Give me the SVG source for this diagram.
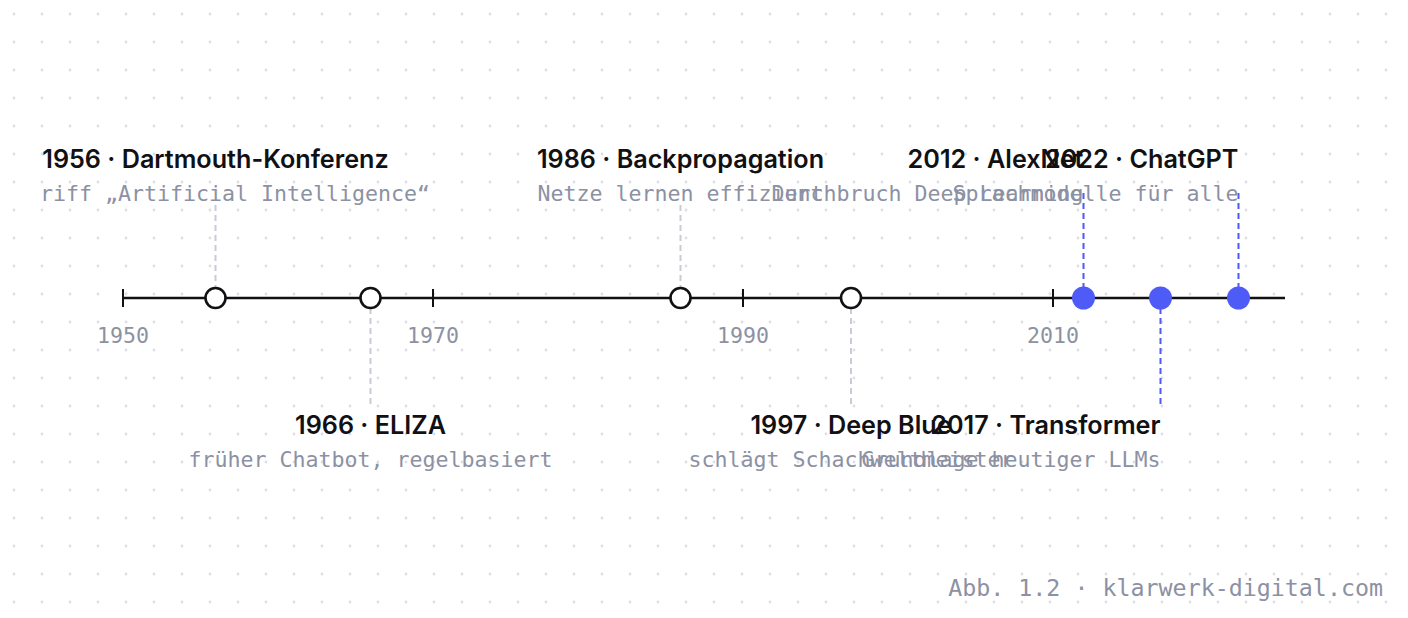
<svg xmlns="http://www.w3.org/2000/svg" width="1408" height="618" viewBox="0 0 1408 618">
<defs>
<pattern id="dots" x="0" y="0" width="28" height="28" patternUnits="userSpaceOnUse">
<circle cx="14" cy="14" r="1.4" fill="#dcdde6"/>
</pattern>
<style>
.t{font-family:Inter,"Noto Sans","Liberation Sans",sans-serif;font-weight:600;font-size:25.2px;fill:#111114}
.d{font-family:"DejaVu Sans Mono","Liberation Mono",monospace;font-size:21.6px;fill:#8c91a3}
.ax{font-family:"DejaVu Sans Mono","Liberation Mono",monospace;font-size:21.6px;fill:#8c91a3;text-anchor:middle}
.c{text-anchor:middle}
.e{text-anchor:end}
.gd{stroke:#c9cbd5;stroke-width:2;stroke-dasharray:6 4;fill:none}
.bd{stroke:#4f5bf7;stroke-width:2;stroke-dasharray:6 4;fill:none}
.open{fill:#fff;stroke:#111114;stroke-width:2.6}
.full{fill:#4f5bf7}
</style>
</defs>
<rect width="1408" height="618" fill="#fff"/>
<rect width="1408" height="618" fill="url(#dots)"/>
<g id="connectors">
<line class="gd" x1="215.5" y1="205" x2="215.5" y2="288"/>
<line class="gd" x1="370.5" y1="308" x2="370.5" y2="406"/>
<line class="gd" x1="680.5" y1="205" x2="680.5" y2="288"/>
<line class="gd" x1="851" y1="308" x2="851" y2="406"/>
<line class="bd" x1="1083.5" y1="193" x2="1083.5" y2="288"/>
<line class="bd" x1="1160.5" y1="308" x2="1160.5" y2="406"/>
<line class="bd" x1="1238.5" y1="193" x2="1238.5" y2="288"/>
</g>
<g id="axis">
<line x1="123" y1="298" x2="1285" y2="298" stroke="#111114" stroke-width="2.6"/>
<g stroke="#111114" stroke-width="2">
<line x1="123" y1="289" x2="123" y2="307"/>
<line x1="433" y1="289" x2="433" y2="307"/>
<line x1="743" y1="289" x2="743" y2="307"/>
<line x1="1053" y1="289" x2="1053" y2="307"/>
</g>
<text class="ax" x="123" y="343">1950</text>
<text class="ax" x="433" y="343">1970</text>
<text class="ax" x="743" y="343">1990</text>
<text class="ax" x="1053" y="343">2010</text>
</g>
<g id="n1956">
<circle class="open" cx="215.5" cy="298" r="10"/>
<text class="t c" x="215.5" y="168">1956 · Dartmouth-Konferenz</text>
<text class="d" x="40" y="201">riff „Artificial Intelligence“</text>
</g>
<g id="n1966">
<circle class="open" cx="370.5" cy="298" r="10"/>
<text class="t c" x="370.5" y="434">1966 · ELIZA</text>
<text class="d c" x="370.5" y="467">früher Chatbot, regelbasiert</text>
</g>
<g id="n1986">
<circle class="open" cx="680.5" cy="298" r="10"/>
<text class="t c" x="680.5" y="168">1986 · Backpropagation</text>
<text class="d c" x="680.5" y="201">Netze lernen effizient</text>
</g>
<g id="n1997">
<circle class="open" cx="851" cy="298" r="10"/>
<text class="t c" x="851" y="434">1997 · Deep Blue</text>
<text class="d c" x="851" y="467">schlägt Schachweltmeister</text>
</g>
<g id="n2012">
<circle class="full" cx="1083.5" cy="298" r="11.5"/>
<text class="t e" x="1083.5" y="168">2012 · AlexNet</text>
<text class="d e" x="1083.5" y="201">Durchbruch Deep Learning</text>
</g>
<g id="n2017">
<circle class="full" cx="1160.5" cy="298" r="11.5"/>
<text class="t e" x="1160.5" y="434">2017 · Transformer</text>
<text class="d e" x="1160.5" y="467">Grundlage heutiger LLMs</text>
</g>
<g id="n2022">
<circle class="full" cx="1238.5" cy="298" r="11.5"/>
<text class="t e" x="1238.5" y="168">2022 · ChatGPT</text>
<text class="d e" x="1238.5" y="201">Sprachmodelle für alle</text>
</g>
<text class="d e" x="1383" y="596" style="font-size:23.3px">Abb. 1.2 · klarwerk-digital.com</text>
</svg>
